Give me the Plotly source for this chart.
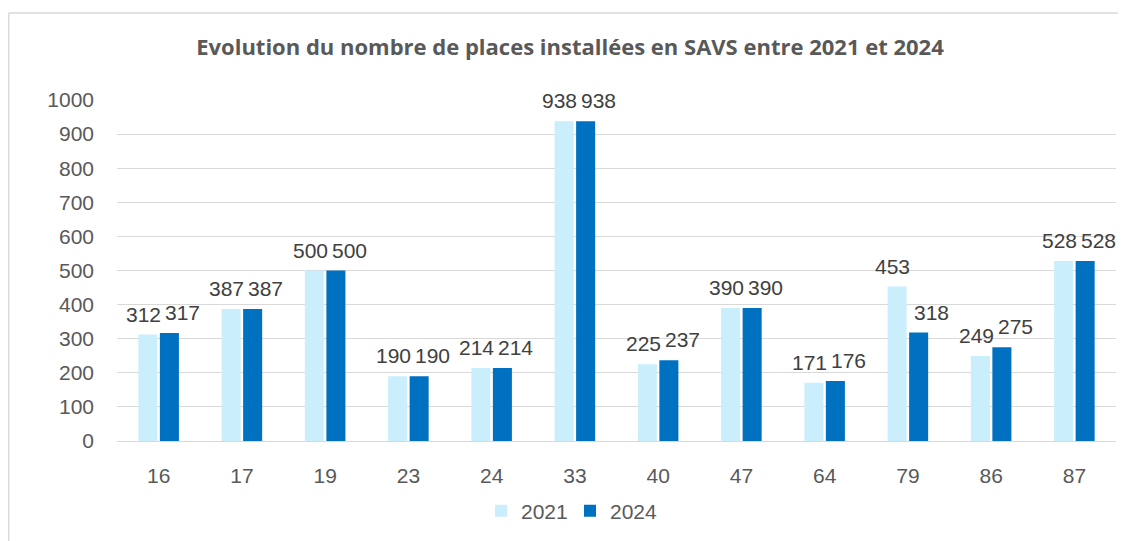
import plotly.graph_objects as go

categories = ["16", "17", "19", "23", "24", "33", "40", "47", "64", "79", "86", "87"]
values_2021 = [312, 387, 500, 190, 214, 938, 225, 390, 171, 453, 249, 528]
values_2024 = [317, 387, 500, 190, 214, 938, 237, 390, 176, 318, 275, 528]
series_names = ["2021", "2024"]
y_ticks = [0, 100, 200, 300, 400, 500, 600, 700, 800, 900, 1000]

color_2021 = "#CAEEFB"
color_2024 = "#0070C0"
text_color = "#595959"
label_color = "#404040"
grid_color = "#D9D9D9"
font_family = "Liberation Sans, Arial, sans-serif"
FS = 21

# page body has an 8px margin: work in screen pixels, convert to figure pixels
OFF = 8
W, H = 1126 - OFF, 541 - OFF
plot_left, plot_right, plot_top, plot_bottom = 117, 1116, 100, 441
ml, mt = plot_left - OFF, plot_top - OFF
pw, ph = plot_right - plot_left, plot_bottom - plot_top
mr, mb = W - ml - pw, H - mt - ph

fig = go.Figure()
fig.add_bar(x=categories, y=values_2021, name=series_names[0],
            marker=dict(color=color_2021, line=dict(width=0)))
fig.add_bar(x=categories, y=values_2024, name=series_names[1],
            marker=dict(color=color_2024, line=dict(width=0)))

annotations = []
for vals, shift in ((values_2021, -15), (values_2024, 24)):
    for i, v in enumerate(vals):
        annotations.append(dict(x=i, y=v, xref="x", yref="y", text=str(v),
                                showarrow=False, xshift=shift, yshift=7,
                                yanchor="bottom", xanchor="center",
                                font=dict(family=font_family, size=FS, color=label_color)))

def px_x(p):
    return (p - plot_left) / pw

def px_y(p):
    return (plot_bottom - p) / ph

shapes = [
    dict(type="line", xref="paper", yref="paper", x0=px_x(8.7), x1=px_x(1140),
         y0=px_y(13), y1=px_y(13), line=dict(color="#D9D9D9", width=1.5)),
    dict(type="line", xref="paper", yref="paper", x0=px_x(8.7), x1=px_x(8.7),
         y0=px_y(13), y1=px_y(560), line=dict(color="#D9D9D9", width=1.5)),
]

fig.update_layout(
    width=W, height=H,
    margin=dict(l=ml, r=mr, t=mt, b=mb, autoexpand=False),
    paper_bgcolor="white", plot_bgcolor="white",
    barmode="group", bargap=0.483, bargroupgap=0.116,
    title=dict(text="<b>Evolution du nombre de places installées en SAVS entre 2021 et 2024</b>",
               x=(570 - OFF) / W, xanchor="center", xref="container",
               y=1 - (47 - OFF) / H, yanchor="middle", yref="container",
               font=dict(family="Open Sans, sans-serif", size=22, color=text_color)),
    font=dict(family=font_family, size=FS, color=text_color),
    xaxis=dict(type="category", range=[-0.5, len(categories) - 0.5], showgrid=False,
               ticks="", showline=False, automargin=False,
               tickfont=dict(size=FS, color=text_color), ticklabelstandoff=20),
    yaxis=dict(range=[0, 1000], tickvals=y_ticks, showgrid=True, gridcolor=grid_color,
               gridwidth=1.3, zeroline=True, zerolinecolor=grid_color, zerolinewidth=1.3,
               ticks="", showline=False, automargin=False,
               tickfont=dict(size=FS, color=text_color), ticklabelstandoff=22),
    legend=dict(orientation="h", x=px_x(570), xanchor="center", y=px_y(511),
                yanchor="middle", font=dict(size=FS, color=text_color),
                itemwidth=30, entrywidth=44, traceorder="normal", itemsizing="constant"),
    annotations=annotations,
    shapes=shapes,
)

fig.write_html("out.html")
